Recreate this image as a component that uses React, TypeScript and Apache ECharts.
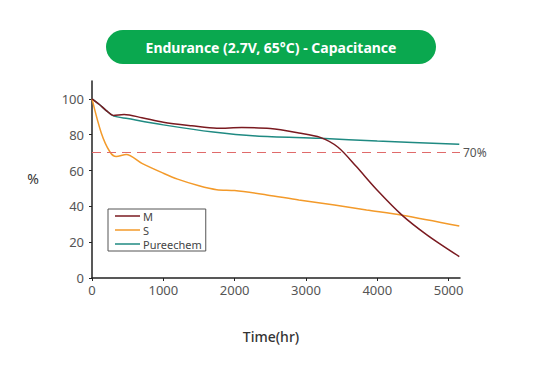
import React, { useEffect, useRef } from "react";
import * as echarts from "echarts";

const xTicks = [0, 1000, 2000, 3000, 4000, 5000];
const yTicks = [0, 20, 40, 60, 80, 100];

const mData: [number, number][] = [
  [0, 100], [100, 97], [200, 93.5], [300, 90.8], [450, 91.3], [700, 89.5], [1000, 87], [1400, 85],
  [1750, 83.6], [2100, 84], [2500, 83.5], [2900, 81], [3200, 78.5], [3450, 73],
  [3700, 62.5], [4000, 49], [4350, 35], [4700, 24], [5150, 12],
];
const sData: [number, number][] = [
  [0, 100], [130, 81], [250, 70.5], [340, 67.8], [480, 69], [700, 64], [1000, 58.5],
  [1200, 55.2], [1500, 51.5], [1750, 49.3], [2000, 48.8], [2450, 46.4], [2900, 43.6],
  [3400, 40.8], [3850, 38], [4350, 35], [5150, 29],
];
const pData: [number, number][] = [
  [0, 100], [100, 97], [200, 93.5], [300, 90.5], [500, 89], [1000, 85.5], [1700, 81.5],
  [2300, 79.3], [3200, 78], [4000, 76.5], [5150, 74.7],
];
const threshold = 70;
const seriesNames = ["M", "S", "Pureechem"];
const seriesColors = ["#7a1a20", "#f39a2a", "#1f8a82"];

export default function App() {
  const ref = useRef<HTMLDivElement>(null);
  useEffect(() => {
    document.body.style.margin = "0";
    if (!ref.current) return;
    const chart = echarts.init(ref.current, undefined, { renderer: "svg" });
    const font = "'Noto Sans', sans-serif";
    const datas = [mData, sData, pData];
    chart.setOption({
      animation: false,
      backgroundColor: "#ffffff",
      grid: { left: 92, top: 81, right: 81, bottom: 103 },
      legend: {
        orient: "vertical",
        left: 108,
        top: 209,
        padding: [0, 4, 0, 7],
        itemGap: 0,
        itemWidth: 25,
        itemHeight: 1.5,
        icon: "rect",
        borderColor: "#555",
        borderWidth: 1,
        selectedMode: false,
        textStyle: {
          fontSize: 11,
          lineHeight: 14,
          color: "#444",
          fontFamily: font,
          padding: [0, 0, 0, -2],
        },
        data: seriesNames,
      },
      xAxis: {
        type: "value",
        min: 0,
        max: 5160,
        interval: 1000,
        splitLine: { show: false },
        axisLine: { lineStyle: { color: "#222", width: 1.5 } },
        axisTick: { show: true, length: 3, lineStyle: { color: "#222" }, customValues: xTicks },
        axisLabel: {
          color: "#555",
          fontSize: 13,
          fontFamily: font,
          margin: 5,
          customValues: xTicks,
          formatter: (v: number) => String(v),
        },
      },
      yAxis: {
        type: "value",
        min: 0,
        max: 110,
        interval: 20,
        splitLine: { show: false },
        axisLine: { show: true, lineStyle: { color: "#222", width: 1.5 } },
        axisTick: { show: true, length: 3, lineStyle: { color: "#222" }, customValues: yTicks },
        axisLabel: {
          color: "#555",
          fontSize: 13,
          fontFamily: font,
          margin: 8,
          customValues: yTicks,
          formatter: (v: number) => String(v),
        },
      },
      graphic: [
        {
          type: "rect",
          shape: { x: 106, y: 30, width: 330, height: 34, r: 17 },
          style: { fill: "#0aa84f" },
        },
        {
          type: "text",
          x: 271,
          y: 47,
          style: {
            text: "Endurance (2.7V, 65°C) - Capacitance",
            fill: "#ffffff",
            font: "bold 14px 'Noto Sans', sans-serif",
            align: "center",
            verticalAlign: "middle",
          },
        },
        {
          type: "text",
          x: 33,
          y: 178,
          style: {
            text: "%",
            fill: "#333",
            font: "14px 'Noto Sans', sans-serif",
            align: "center",
            verticalAlign: "middle",
          },
        },
        {
          type: "text",
          x: 271,
          y: 336,
          style: {
            text: "Time(hr)",
            fill: "#333",
            font: "500 14px 'Noto Sans', sans-serif",
            align: "center",
            verticalAlign: "middle",
          },
        },
      ],
      series: seriesNames.map((name, i) => ({
        name,
        type: "line",
        data: datas[i],
        smooth: 0.3,
        symbol: "none",
        color: seriesColors[i],
        lineStyle: { width: 1.5, color: seriesColors[i] },
        z: 3 - i,
        ...(i === 0
          ? {
              markLine: {
                silent: true,
                symbol: "none",
                lineStyle: { color: "#e06a6a", type: [9, 6], width: 1.2 },
                label: {
                  show: true,
                  position: "end",
                  formatter: "70%",
                  color: "#555",
                  fontSize: 12,
                  fontFamily: font,
                  distance: 3,
                },
                data: [{ yAxis: threshold }],
              },
            }
          : {}),
      })),
    });
    return () => chart.dispose();
  }, []);
  return <div ref={ref} style={{ width: 541, height: 381 }} />;
}
